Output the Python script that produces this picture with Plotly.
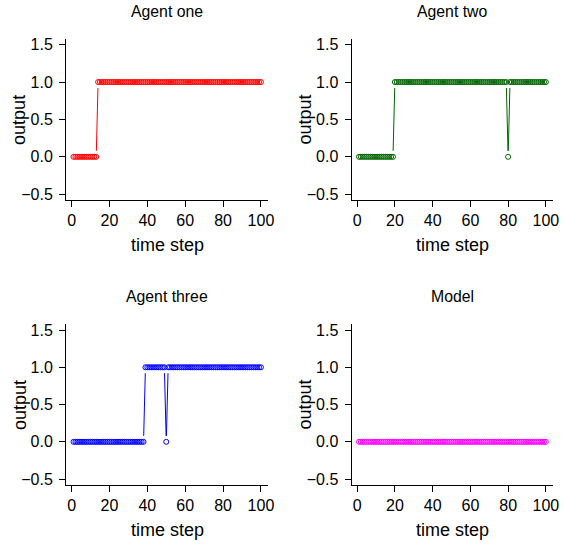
import numpy as np
import plotly.graph_objects as go

W, H = 566, 551

# time steps and agent outputs
time_step = list(range(1, 101))
agent_one = [0] * 13 + [1] * 87
agent_two = [0] * 19 + [1] * 60 + [0] + [1] * 20
agent_three = [0] * 38 + [1] * 11 + [0] + [1] * 50
model = [0] * 100

titles = ["Agent one", "Agent two", "Agent three", "Model"]
colors = ["#FF0000", "#006400", "#0000FF", "#FF00FF"]
series = [agent_one, agent_two, agent_three, model]

x_ticks = [0, 20, 40, 60, 80, 100]
y_ticks = [-0.5, 0.0, 0.5, 1.0, 1.5]
x_range = [-2.96, 103.96]
y_range = [-0.58, 1.58]

# plot regions in pixels: (left, right, top, bottom)
regions = [
    (66.7, 271.3, 37.0, 200.0),
    (355.3, 559.3, 37.0, 200.0),
    (66.7, 271.3, 325.0, 487.5),
    (355.3, 559.3, 325.0, 487.5),
]

FONT = "Liberation Sans, Arial, Helvetica, sans-serif"
GAP = 6.0  # pixel gap between line segments and point centres

fig = go.Figure()
layout = {}
annotations = []

for i, (ys, col, title, (l, r, t, b)) in enumerate(zip(series, colors, titles, regions)):
    n = "" if i == 0 else str(i + 1)
    xa, ya = f"x{n}", f"y{n}"
    # px per data unit
    sx = (r - l) / (x_range[1] - x_range[0])
    sy = (b - t) / (y_range[1] - y_range[0])

    # type="b" style: connecting segments with gaps around the points
    lx, ly = [], []
    for j in range(len(time_step) - 1):
        x0, x1 = time_step[j], time_step[j + 1]
        y0, y1 = ys[j], ys[j + 1]
        dx, dy = (x1 - x0) * sx, (y1 - y0) * sy
        d = float(np.hypot(dx, dy))
        if d <= 2 * GAP:
            continue
        f = GAP / d
        lx += [x0 + (x1 - x0) * f, x1 - (x1 - x0) * f, None]
        ly += [y0 + (y1 - y0) * f, y1 - (y1 - y0) * f, None]

    fig.add_trace(go.Scatter(x=lx, y=ly, mode="lines", line=dict(color=col, width=1),
                             xaxis=xa, yaxis=ya, showlegend=False, hoverinfo="skip"))
    fig.add_trace(go.Scatter(x=time_step, y=ys, mode="markers",
                             marker=dict(symbol="circle-open", size=5, color=col,
                                         line=dict(color=col, width=1)),
                             xaxis=xa, yaxis=ya, showlegend=False))

    common = dict(showline=True, linecolor="black", linewidth=1, mirror=False,
                  ticks="outside", ticklen=6, tickwidth=1, tickcolor="black",
                  showgrid=False, zeroline=False,
                  tickfont=dict(family=FONT, size=16, color="black"))
    layout["xaxis" + n] = dict(domain=[l / W, r / W], range=x_range, anchor=ya,
                               tickvals=x_ticks, ticklabelstandoff=0, **common)
    layout["yaxis" + n] = dict(domain=[1 - b / H, 1 - t / H], range=y_range, anchor=xa,
                               tickvals=y_ticks, tickformat=".1f", ticklabelstandoff=3, **common)

    cx = (l + r) / 2
    annotations.append(dict(text=title, x=cx / W, y=1 - (t - 27.5) / H, xref="paper", yref="paper",
                            showarrow=False, xanchor="center", yanchor="middle",
                            font=dict(family=FONT, size=15.8, color="black")))
    annotations.append(dict(text="time step", x=cx / W, y=1 - (b + 45.5) / H, xref="paper",
                            yref="paper", showarrow=False, xanchor="center", yanchor="middle",
                            font=dict(family=FONT, size=18, color="black")))
    annotations.append(dict(text="output", x=(l - 47) / W, y=1 - ((t + b) / 2) / H, xref="paper",
                            yref="paper", showarrow=False, xanchor="center", yanchor="middle",
                            textangle=-90, font=dict(family=FONT, size=18, color="black")))

fig.update_layout(width=W, height=H, margin=dict(l=0, r=0, t=0, b=0),
                  plot_bgcolor="white", paper_bgcolor="white",
                  annotations=annotations, **layout)

fig.write_html("out.html")
